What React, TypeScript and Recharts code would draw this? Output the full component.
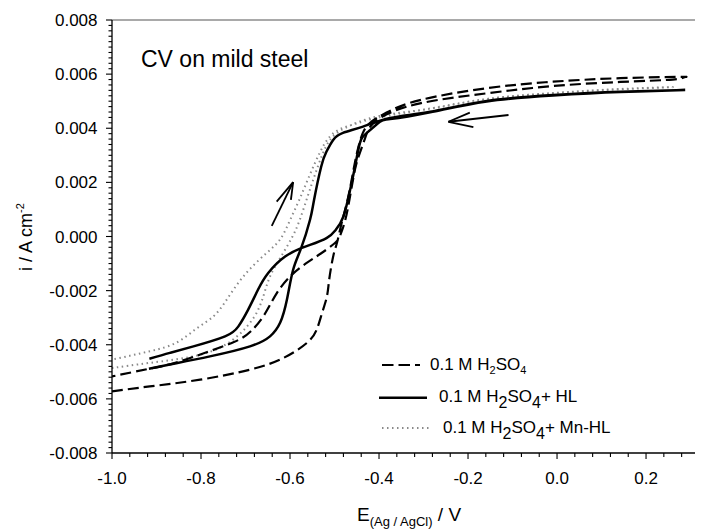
import React from 'react';
import { LineChart, Line, XAxis, YAxis, ReferenceLine } from 'recharts';

// 0.1 M H2SO4 (dashed) - potential (V) and current density (A cm^-2), in sweep order
const h2so4E = [
  -1.0, -0.915, -0.802, -0.69, -0.615, -0.562, -0.54, -0.528, -0.517, -0.512, -0.503, -0.494, -0.484, -0.47,
  -0.458, -0.448, -0.437, -0.42, -0.383, -0.308, -0.158, -0.009, 0.142, 0.276, 0.285,
  0.26, 0.142, -0.009, -0.158, -0.308, -0.39, -0.42, -0.432, -0.445, -0.455, -0.466, -0.476, -0.487, -0.499,
  -0.529, -0.56, -0.595, -0.63, -0.658, -0.688, -0.726, -0.8, -0.86, -0.92, -1.0,
];
const h2so4I = [
  -0.00572, -0.00554, -0.00529, -0.00492, -0.00449, -0.00393, -0.00344, -0.00283, -0.00221, -0.0016, -0.00074,
  -0.0002, 0.0005, 0.0014, 0.0024, 0.0032, 0.0038, 0.0042, 0.00458, 0.00504, 0.00548, 0.00572, 0.00585, 0.0059,
  0.00588, 0.0058, 0.00571, 0.00556, 0.00529, 0.00492, 0.00445, 0.00405, 0.0036, 0.003, 0.0024, 0.0014, 0.0006,
  0.00005, -0.00024, -0.00061, -0.00095, -0.0014, -0.0021, -0.0029, -0.0035, -0.0039, -0.00435, -0.00468,
  -0.0049, -0.00517,
];

// 0.1 M H2SO4 + HL (solid)
const hlE = [
  -0.917, -0.87, -0.78, -0.69, -0.645, -0.622, -0.607, -0.593, -0.575, -0.555, -0.546, -0.53, -0.518, -0.503,
  -0.481, -0.436, -0.375, -0.285, -0.158, -0.009, 0.142, 0.288,
  0.142, -0.009, -0.158, -0.285, -0.375, -0.398, -0.428, -0.443, -0.454, -0.465, -0.48, -0.497, -0.518, -0.555,
  -0.575, -0.611, -0.649, -0.672, -0.694, -0.716, -0.746, -0.817, -0.87, -0.916,
];
const hlI = [
  -0.00489, -0.00473, -0.00443, -0.00406, -0.00369, -0.00318, -0.00234, -0.00123, -0.00043, 0.00062, 0.00135,
  0.00258, 0.00314, 0.00357, 0.00383, 0.00406, 0.00438, 0.00461, 0.00501, 0.00523, 0.00535, 0.00541,
  0.00534, 0.00521, 0.00499, 0.00459, 0.00434, 0.00424, 0.00382, 0.00345, 0.00258, 0.00172, 0.00074, 0.00025,
  -0.00006, -0.00031, -0.00043, -0.00074, -0.00135, -0.00197, -0.0027, -0.00332, -0.00369, -0.00406, -0.0043,
  -0.00452,
];

// 0.1 M H2SO4 + Mn-HL (dotted)
const mnE = [
  -1.0, -0.915, -0.802, -0.728, -0.682, -0.66, -0.645, -0.622, -0.596, -0.578, -0.56, -0.544, -0.528, -0.51,
  -0.476, -0.4, -0.285, -0.158, -0.009, 0.142, 0.26,
  0.142, -0.009, -0.158, -0.285, -0.4, -0.45, -0.49, -0.515, -0.533, -0.555, -0.578, -0.6, -0.622, -0.652,
  -0.69, -0.72, -0.745, -0.772, -0.81, -0.855, -0.915, -1.0,
];
const mnI = [
  -0.00486, -0.00467, -0.00437, -0.00381, -0.00301, -0.00221, -0.00148, -0.00079, -0.00005, 0.00062, 0.0015,
  0.00228, 0.003, 0.00357, 0.00401, 0.00445, 0.00472, 0.00508, 0.0053, 0.00545, 0.00552,
  0.00544, 0.0053, 0.00508, 0.00473, 0.0044, 0.00418, 0.00395, 0.0036, 0.0031, 0.0023, 0.0014, 0.0006,
  -0.0001, -0.0006, -0.0012, -0.0018, -0.0024, -0.00295, -0.0034, -0.00392, -0.00424, -0.00455,
];

// sweep direction arrows: [tailE, tailI, tipE, tipI, barb1E, barb1I, barb2E, barb2I]
const arrowUp = [-0.641, 0.00039, -0.593, 0.00201, -0.63, 0.00129, -0.598, 0.00135];
const arrowLeft = [-0.109, 0.00449, -0.244, 0.00424, -0.196, 0.00458, -0.188, 0.00404];

const xMajorTicks = [-1.0, -0.8, -0.6, -0.4, -0.2, 0.0, 0.2];
const yMajorTicks = [-0.008, -0.006, -0.004, -0.002, 0.0, 0.002, 0.004, 0.006, 0.008];
const xMinorStep = 0.04;
const yMinorStep = 0.0002;

const xTicks = Array.from({ length: 34 }, (_, k) => +(-1 + k * xMinorStep).toFixed(2));
const yTicks = Array.from({ length: 81 }, (_, k) => +(-0.008 + k * yMinorStep).toFixed(4));

const zip = (E: number[], I: number[]) => E.map((e, k) => ({ E: e, i: I[k] }));
const h2so4Data = zip(h2so4E, h2so4I);
const hlData = zip(hlE, hlI);
const mnData = zip(mnE, mnI);

const FONT = "Arial, 'Liberation Sans', Helvetica, sans-serif";

// tickSize 0 / tickMargin 0: x, y arrive on the axis line
const YTick = (props: any) => {
  const { x, y, payload } = props;
  const v = payload.value;
  const major = yMajorTicks.some((m) => Math.abs(m - v) < 1e-7);
  return (
    <g>
      <rect x={x - (major ? 6 : 3.5)} y={y - 0.55} width={major ? 6 : 3.5} height={1.1} fill="#000" />
      {major && (
        <text x={x - 14.5} y={y} dy="0.36em" textAnchor="end" fontSize={17} fill="#000" fontFamily={FONT}>
          {Math.abs(v) < 1e-9 ? '0.000' : v.toFixed(3)}
        </text>
      )}
    </g>
  );
};

const XTick = (props: any) => {
  const { x, y, payload } = props;
  const v = payload.value;
  const major = xMajorTicks.some((m) => Math.abs(m - v) < 1e-7);
  return (
    <g>
      <rect x={x - 0.55} y={y} width={1.1} height={major ? 6 : 4} fill="#000" />
      {major && (
        <text x={x} y={y + 31} textAnchor="middle" fontSize={17} fill="#000" fontFamily={FONT}>
          {Math.abs(v) < 1e-9 ? '0.0' : v.toFixed(1)}
        </text>
      )}
    </g>
  );
};

const arrowSegs = (a: number[]) => [
  [{ x: a[0], y: a[1] }, { x: a[2], y: a[3] }],
  [{ x: a[2], y: a[3] }, { x: a[4], y: a[5] }],
  [{ x: a[2], y: a[3] }, { x: a[6], y: a[7] }],
];

const DASH = '11 5';
const DOT = '1.5 3.5';

export default function App() {
  return (
    <div style={{ position: 'relative', width: 695, height: 521 }}>
      <LineChart width={695} height={521} data={h2so4Data} margin={{ top: 12, right: 0, left: 0, bottom: 36 }}>
        <XAxis
          type="number"
          dataKey="E"
          domain={[-1, 0.328]}
          ticks={xTicks}
          interval={0}
          tick={<XTick />}
          tickSize={0}
          tickMargin={0}
          tickLine={false}
          axisLine={{ stroke: '#000', strokeWidth: 1.3 }}
          height={40}
          allowDataOverflow
        />
        <YAxis
          type="number"
          domain={[-0.008, 0.008]}
          ticks={yTicks}
          interval={0}
          tick={<YTick />}
          tickSize={0}
          tickMargin={0}
          tickLine={false}
          axisLine={{ stroke: '#000', strokeWidth: 1.3 }}
          width={104}
          allowDataOverflow
        />
        <ReferenceLine y={0.008} stroke="#555" strokeWidth={1.2} />
        <Line
          data={mnData}
          dataKey="i"
          type="natural"
          stroke="#8a8a8a"
          strokeWidth={2}
          strokeDasharray={DOT}
          dot={false}
          activeDot={false}
          isAnimationActive={false}
        />
        <Line
          data={h2so4Data}
          dataKey="i"
          type="natural"
          stroke="#000"
          strokeWidth={2.2}
          strokeDasharray={DASH}
          dot={false}
          activeDot={false}
          isAnimationActive={false}
        />
        <Line
          data={hlData}
          dataKey="i"
          type="natural"
          stroke="#000"
          strokeWidth={2.5}
          dot={false}
          activeDot={false}
          isAnimationActive={false}
        />
        {[...arrowSegs(arrowUp), ...arrowSegs(arrowLeft)].map((seg, k) => (
          <ReferenceLine key={k} segment={seg} stroke="#000" strokeWidth={1.8} />
        ))}
      </LineChart>
      <svg
        width={703}
        height={529}
        style={{ position: 'absolute', left: -8, top: -8, pointerEvents: 'none' }}
        fontFamily={FONT}
      >
        <text x={141} y={66.5} fontSize={23} fill="#000">CV on mild steel</text>

        <line x1={382} x2={420} y1={365} y2={365} stroke="#000" strokeWidth={2.2} strokeDasharray="11.5 5" />
        <text x={430} y={370} fontSize={17} fill="#000">
          0.1 M H<tspan fontSize={11} dy={4}>2</tspan>
          <tspan dy={-4}>SO</tspan>
          <tspan fontSize={11} dy={4}>4</tspan>
        </text>

        <line x1={379} x2={427} y1={397.7} y2={397.7} stroke="#000" strokeWidth={2.5} />
        <text x={439} y={401.7} fontSize={17} fill="#000">
          0.1 M H<tspan fontSize={16} dy={6}>2</tspan>
          <tspan dy={-6}>SO</tspan>
          <tspan fontSize={16} dy={6}>4</tspan>
          <tspan dy={-6}>+ HL</tspan>
        </text>

        <line x1={382} x2={430} y1={428} y2={428} stroke="#8a8a8a" strokeWidth={2} strokeDasharray={DOT} />
        <text x={443} y={432.7} fontSize={17} fill="#000">
          0.1 M H<tspan fontSize={16} dy={6}>2</tspan>
          <tspan dy={-6}>SO</tspan>
          <tspan fontSize={16} dy={6}>4</tspan>
          <tspan dy={-6}>+ Mn-HL</tspan>
        </text>

        <text transform="translate(32,237) rotate(-90)" textAnchor="middle" fontSize={18} fill="#000">
          i / A cm<tspan fontSize={11} dy={-8}>-2</tspan>
        </text>

        <text x={357} y={521} fontSize={19} fill="#000">
          E<tspan fontSize={13} dy={5}>(Ag / AgCl)</tspan>
          <tspan dy={-5}> / V</tspan>
        </text>
      </svg>
    </div>
  );
}
